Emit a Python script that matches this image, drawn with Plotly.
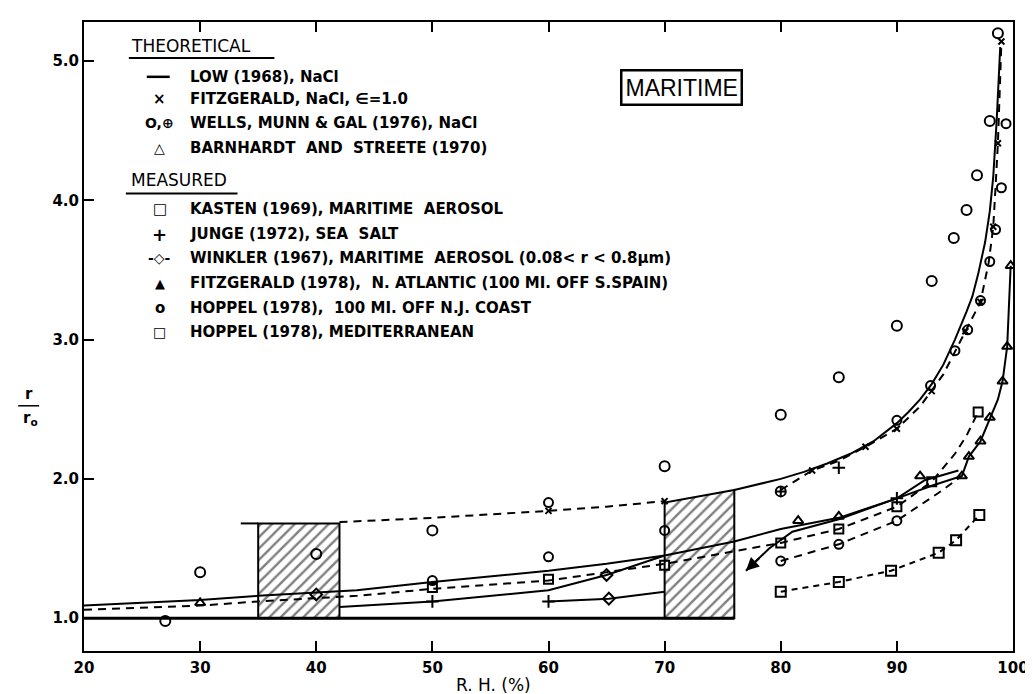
import plotly.graph_objects as go

# ---------------- data ----------------
rh_ticks = [20, 30, 40, 50, 60, 70, 80, 90, 100]
r_ticks = [1.0, 2.0, 3.0, 4.0, 5.0]
r_tick_text = ["1.0", "2.0", "3.0", "4.0", "5.0"]

# LOW (1968), NaCl - theoretical, solid
low_dry_rh = [20, 76]
low_dry_r = [1.0, 1.0]
low_wet_rh = [76, 78, 80, 82, 84, 86, 88, 90, 91, 92, 93, 94, 95, 96, 96.5, 97, 97.6, 98, 98.3, 98.6, 98.9]
low_wet_r = [1.92, 1.96, 2.0, 2.05, 2.11, 2.18, 2.27, 2.40, 2.48, 2.57, 2.68, 2.82, 3.0, 3.2, 3.31, 3.47, 3.70, 3.92, 4.17, 4.58, 5.10]

# FITZGERALD, NaCl - dashed branches
fitz_ledge_rh = [33.5, 35]
fitz_ledge_r = [1.68, 1.68]
fitz_desc_rh = [42, 50, 60, 65, 70]
fitz_desc_r = [1.69, 1.72, 1.77, 1.80, 1.84]
fitz_wet_rh = [80, 82.7, 85, 87.3, 90, 92, 94, 95.9, 97.2, 97.9, 98.3, 98.5, 98.7, 98.9, 99.0]
fitz_wet_r = [1.92, 2.06, 2.13, 2.23, 2.36, 2.52, 2.75, 3.06, 3.27, 3.55, 3.81, 4.10, 4.41, 4.89, 5.14]
fitz_x_rh = [60, 70, 82.7, 87.3, 90, 93, 95.9, 97.2, 98.3, 98.7, 99.0]
fitz_x_r = [1.77, 1.84, 2.06, 2.23, 2.36, 2.63, 3.06, 3.27, 3.81, 4.41, 5.14]

# deliquescence boxes (hatched)
box1_rh = [35, 35, 42, 42, 35]
box1_r = [1.0, 1.68, 1.68, 1.0, 1.0]
box2_rh = [70, 70, 76, 76, 70]
box2_r = [1.0, 1.83, 1.92, 1.0, 1.0]

# BARNHARDT AND STREETE (1970) - solid
barn_rh = [20, 30, 35, 43.5, 50, 60, 65, 70, 76, 80, 85, 90, 92.4, 95.3]
barn_r = [1.09, 1.13, 1.16, 1.20, 1.26, 1.34, 1.39, 1.45, 1.55, 1.64, 1.72, 1.86, 1.99, 2.06]
barn_mk_rh = [30, 81.5, 85, 92]
barn_mk_r = [1.11, 1.70, 1.73, 2.02]

# KASTEN (1969) - dashed with squares
kasten_rh = [20, 30, 35, 43.5, 50, 60, 65, 70, 76, 80, 85, 90, 93, 95, 96, 97]
kasten_r = [1.06, 1.09, 1.12, 1.16, 1.21, 1.27, 1.33, 1.39, 1.48, 1.54, 1.64, 1.80, 1.98, 2.18, 2.31, 2.48]
kasten_mk_rh = [50, 60, 70, 80, 85, 90, 93, 97]
kasten_mk_r = [1.22, 1.28, 1.38, 1.54, 1.64, 1.80, 1.98, 2.48]

# WINKLER (1967) - solid with diamonds
wink_rh = [42, 50, 60, 65, 70]
wink_r = [1.08, 1.12, 1.20, 1.31, 1.45]
wink2_rh = [60, 65.2, 70]
wink2_r = [1.12, 1.14, 1.19]
wink_mk_rh = [40, 65, 65.2]
wink_mk_r = [1.17, 1.31, 1.14]

# JUNGE (1972) - crosses
junge_rh = [50, 60, 85, 90]
junge_r = [1.12, 1.12, 2.08, 1.86]

# FITZGERALD (1978), N. Atlantic - solid with triangles
fz78_rh = [77, 79, 81, 85, 90, 93, 95.6, 96.2, 97.2, 98.0, 98.7, 99.1, 99.5, 99.8]
fz78_r = [1.34, 1.50, 1.62, 1.71, 1.86, 1.95, 2.02, 2.16, 2.27, 2.43, 2.57, 2.70, 2.95, 3.53]
fz78_mk_rh = [95.6, 96.2, 97.2, 98.0, 99.1, 99.5, 99.8]
fz78_mk_r = [2.02, 2.16, 2.27, 2.44, 2.70, 2.95, 3.53]

# WELLS, MUNN & GAL (1976) - dashed with circles, plus loose circles
wells_rh = [80, 85, 90, 93.6, 95.6]
wells_r = [1.41, 1.53, 1.70, 1.90, 2.02]
wells_mk_rh = [80, 85, 90, 50, 60, 60, 70, 90, 92.9, 95.0, 96.1, 97.2, 98.0, 98.5, 99.0, 99.4]
wells_mk_r = [1.41, 1.53, 1.70, 1.27, 1.44, 1.83, 1.63, 2.42, 2.67, 2.92, 3.07, 3.28, 3.56, 3.79, 4.09, 4.55]
wells_plus_rh = [80]
wells_plus_r = [1.91]

# HOPPEL (1978), 100 MI. OFF N.J. COAST - circles
hopnj_rh = [27, 30, 40, 50, 70, 80, 85, 90, 93, 94.9, 96, 96.9, 98, 98.7]
hopnj_r = [0.98, 1.33, 1.46, 1.63, 2.09, 2.46, 2.73, 3.10, 3.42, 3.73, 3.93, 4.18, 4.57, 5.20]

# HOPPEL (1978), MEDITERRANEAN - dashed with squares
hopmed_rh = [80, 85, 89.5, 93.6, 95.1, 97.1]
hopmed_r = [1.19, 1.26, 1.34, 1.47, 1.56, 1.74]

# ---------------- figure ----------------
W, H = 1033, 694
L, R, T, B = 76, 25, 12, 51
PW, PH = W - L - R, H - T - B


def px(x):
    return (x - L) / PW


def py(y):
    return (H - B - y) / PH


solid = dict(color="black", width=2)
dashed = dict(color="black", width=2, dash="8px,6px")
fine_dash = dict(color="black", width=2, dash="6px,5px")

fig = go.Figure()

for bx, by in [(box1_rh, box1_r), (box2_rh, box2_r)]:
    fig.add_trace(go.Scatter(
        x=bx, y=by, mode="lines", fill="toself", fillcolor="rgba(0,0,0,0)",
        fillpattern=dict(shape="/", fgcolor="black", size=8, solidity=0.3),
        line=solid, hoverinfo="skip"))


def add_line(x, y, ln):
    fig.add_trace(go.Scatter(x=x, y=y, mode="lines", line=ln, hoverinfo="skip"))


def add_marks(x, y, symbol, size=9, width=2, color="black"):
    fig.add_trace(go.Scatter(
        x=x, y=y, mode="markers",
        marker=dict(symbol=symbol, size=size, color=color,
                    line=dict(color="black", width=width)),
        hoverinfo="skip"))


add_line(low_dry_rh, low_dry_r, dict(color="black", width=3))
add_line(low_wet_rh, low_wet_r, solid)
add_line(fitz_ledge_rh, fitz_ledge_r, solid)
add_line(fitz_desc_rh, fitz_desc_r, dashed)
add_line(fitz_wet_rh, fitz_wet_r, dashed)
add_line(barn_rh, barn_r, solid)
add_line(kasten_rh, kasten_r, dashed)
add_line(wink_rh, wink_r, solid)
add_line(wink2_rh, wink2_r, solid)
add_line(fz78_rh, fz78_r, solid)
add_line(wells_rh, wells_r, dashed)
add_line(hopmed_rh, hopmed_r, fine_dash)

add_marks(fitz_x_rh, fitz_x_r, "x-thin", size=6, width=2)
add_marks(barn_mk_rh, barn_mk_r, "triangle-up-open", size=9)
add_marks(kasten_mk_rh, kasten_mk_r, "square-open", size=9)
add_marks(wink_mk_rh, wink_mk_r, "diamond-open", size=9)
add_marks(junge_rh, junge_r, "cross-thin", size=9)
add_marks(fz78_mk_rh, fz78_mk_r, "triangle-up-open", size=9)
add_marks(wells_mk_rh, wells_mk_r, "circle-open", size=9)
add_marks(wells_plus_rh, wells_plus_r, "circle-cross-open", size=10)
add_marks(hopnj_rh, hopnj_r, "circle-open", size=10)
add_marks(hopmed_rh, hopmed_r, "square-open", size=10)

annotations = []

# arrow on the Fitzgerald (1978) curve
annotations.append(dict(x=fz78_rh[0], y=fz78_r[0], ax=fz78_rh[1] - 0.6, ay=fz78_r[1] - 0.05,
                        xref="x", yref="y", axref="x", ayref="y", text=" ", showarrow=True,
                        arrowhead=2, arrowsize=1.3, arrowwidth=2, arrowcolor="black",
                        font=dict(size=10)))

# legend block
LEG_FONT = dict(family="DejaVu Sans", size=15, color="black", weight="bold")
HEAD_FONT = dict(family="DejaVu Sans", size=17, color="black")
SYM_X, TXT_X = 152, 180

legend_rows = [
    ("", "LOW (1968), NaCl", 67, 11),
    ("×", "FITZGERALD, NaCl, ∈=1.0", 89, 15),
    ("O,⊕", "WELLS, MUNN & GAL (1976), NaCl", 113, 14),
    ("△", "BARNHARDT  AND  STREETE (1970)", 138, 14),
    ("□", "KASTEN (1969), MARITIME  AEROSOL", 200, 15),
    ("+", "JUNGE (1972), SEA  SALT", 225, 18),
    ("-◇-", "WINKLER (1967), MARITIME  AEROSOL (0.08< r < 0.8µm)", 249, 14),
    ("▲", "FITZGERALD (1978),  N. ATLANTIC (100 MI. OFF S.SPAIN)", 274, 13),
    ("o", "HOPPEL (1978),  100 MI. OFF N.J. COAST", 299, 15),
    ("□", "HOPPEL (1978), MEDITERRANEAN", 323, 14),
]
for sym, txt, yy, ssize in legend_rows:
    if sym:
        annotations.append(dict(x=px(SYM_X), y=py(yy), xref="paper", yref="paper", text=sym,
                                showarrow=False, xanchor="center", yanchor="middle",
                                font=dict(family="DejaVu Sans", size=ssize, color="black",
                                          weight="bold")))
    annotations.append(dict(x=px(TXT_X), y=py(yy), xref="paper", yref="paper", text=txt,
                            showarrow=False, xanchor="left", yanchor="middle", font=LEG_FONT))

for head, yy in [("THEORETICAL", 36), ("MEASURED", 171)]:
    annotations.append(dict(x=px(121), y=py(yy), xref="paper", yref="paper", text=head,
                            showarrow=False, xanchor="left", yanchor="middle", font=HEAD_FONT))

annotations.append(dict(x=px(675), y=py(78), xref="paper", yref="paper", text="MARITIME",
                        showarrow=False, xanchor="center", yanchor="middle",
                        font=dict(family="Liberation Sans", size=23, color="black"),
                        bordercolor="black", borderwidth=2.5, borderpad=3, bgcolor="white"))

# axis titles
annotations.append(dict(x=px(487), y=py(677), xref="paper", yref="paper", text="R. H. (%)",
                        showarrow=False, xanchor="center", yanchor="middle",
                        font=dict(family="DejaVu Sans", size=17, color="black")))
annotations.append(dict(x=px(21), y=py(385), xref="paper", yref="paper", text="r",
                        showarrow=False, xanchor="center", yanchor="middle",
                        font=dict(family="DejaVu Sans", size=15, color="black", weight="bold")))
annotations.append(dict(x=px(22), y=py(410), xref="paper", yref="paper", text="r<sub>o</sub>",
                        showarrow=False, xanchor="center", yanchor="middle",
                        font=dict(family="DejaVu Sans", size=15, color="black", weight="bold")))

shapes = [
    dict(type="line", xref="paper", yref="paper", x0=px(121), x1=px(267), y0=py(48), y1=py(48),
         line=dict(color="black", width=2)),
    dict(type="line", xref="paper", yref="paper", x0=px(118), x1=px(230), y0=py(184), y1=py(184),
         line=dict(color="black", width=2)),
    dict(type="line", xref="paper", yref="paper", x0=px(10), x1=px(31), y0=py(397), y1=py(397),
         line=dict(color="black", width=1.5)),
    # legend line symbol for LOW (1968)
    dict(type="line", xref="paper", yref="paper", x0=px(139), x1=px(162), y0=py(67), y1=py(67),
         line=dict(color="black", width=2.5)),
]

TICK_FONT = dict(family="DejaVu Sans", size=15, color="black", weight="bold")

fig.update_layout(
    width=W, height=H,
    margin=dict(l=L, r=R, t=T, b=B, pad=0),
    paper_bgcolor="white", plot_bgcolor="white",
    showlegend=False,
    annotations=annotations,
    shapes=shapes,
    xaxis=dict(range=[20, 100], tickvals=rh_ticks, ticks="inside", ticklen=10, tickwidth=2,
               tickcolor="black", showline=True, linecolor="black", linewidth=2, mirror="ticks",
               showgrid=False, zeroline=False, tickfont=TICK_FONT, ticklabelstandoff=2),
    yaxis=dict(range=[0.764, 5.28], tickvals=r_ticks, ticktext=r_tick_text, ticks="inside",
               ticklen=10, tickwidth=2, tickcolor="black", showline=True, linecolor="black",
               linewidth=2, mirror=True, showgrid=False, zeroline=False, tickfont=TICK_FONT),
)

fig.write_html("out.html")
